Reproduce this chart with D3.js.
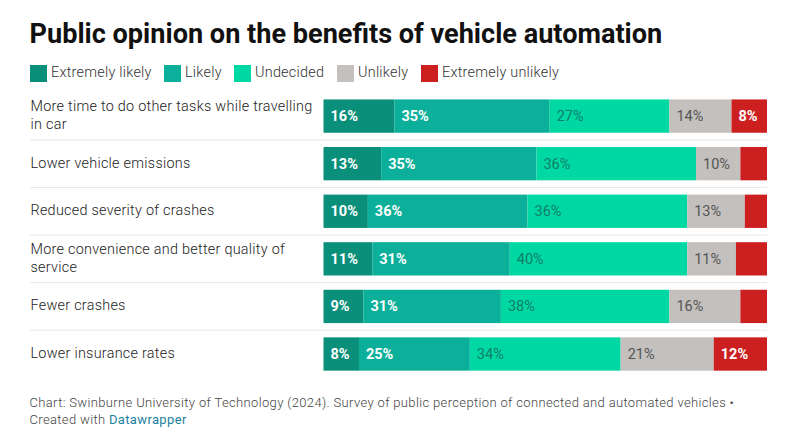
<!DOCTYPE html>
<html lang="en">
<head>
<meta charset="utf-8">
<script src="https://cdn.jsdelivr.net/npm/d3@7"></script>
<style>
html, body { margin: 0; padding: 0; background: #fff; }
svg { display: block; font-family: Roboto, sans-serif; }
</style>
</head>
<body>
<svg id="chart" width="800" height="438"></svg>
<script>
var categories = [
	["More time to do other tasks while travelling", "in car"],
	["Lower vehicle emissions"],
	["Reduced severity of crashes"],
	["More convenience and better quality of", "service"],
	["Fewer crashes"],
	["Lower insurance rates"]
];
var seriesNames = ["Extremely likely", "Likely", "Undecided", "Unlikely", "Extremely unlikely"];
var extremelyLikely = [16, 13, 10, 11, 9, 8];
var likely = [35, 35, 36, 31, 31, 25];
var undecided = [27, 36, 36, 40, 38, 34];
var unlikely = [14, 10, 13, 11, 16, 21];
var extremelyUnlikely = [8, 6, 5, 7, 6, 12];
var seriesValues = [extremelyLikely, likely, undecided, unlikely, extremelyUnlikely];
var colors = ["#0a8f7a", "#0cb09a", "#00d8a4", "#c3c0be", "#cc1f1f"];
var labelColors = ["#fff", "#fff", "#0f7f68", "#555", "#fff"];
var legendX = [30, 164, 234, 337, 421];
var minLabelValue = 8;

var svg = d3.select("#chart");
var x = d3.scaleLinear().domain([0, 100]).range([323.5, 767]);
var y = d3.scaleBand().domain(d3.range(categories.length)).range([92.3, 377.8]).paddingInner(0.3).paddingOuter(0.15);

svg.append("text")
	.attr("x", 29.5).attr("y", 42.5)
	.attr("font-size", 27.1).attr("font-weight", 700).attr("fill", "#111")
	.text("Public opinion on the benefits of vehicle automation");

// legend
var legend = svg.selectAll("g.legend").data(seriesNames).enter().append("g")
	.attr("class", "legend")
	.attr("transform", function(d, i) { return "translate(" + legendX[i] + ",65)"; });
legend.append("rect").attr("width", 17).attr("height", 17)
	.attr("fill", function(d, i) { return colors[i]; });
legend.append("text").attr("x", 21).attr("y", 12)
	.attr("font-size", 14.4).attr("font-weight", 300).attr("letter-spacing", 0.25).attr("fill", "#333")
	.text(function(d) { return d; });

// row separators
svg.selectAll("line.sep").data(d3.range(categories.length - 1)).enter().append("line")
	.attr("class", "sep")
	.attr("x1", 30).attr("x2", 767)
	.attr("y1", function(i) { return (y(i) + y.bandwidth() + y(i + 1)) / 2; })
	.attr("y2", function(i) { return (y(i) + y.bandwidth() + y(i + 1)) / 2; })
	.attr("stroke", "#e6e8e8").attr("stroke-width", 1);

// row labels
categories.forEach(function(lines, r) {
	var mid = y(r) + y.bandwidth() / 2;
	var t = svg.append("text").attr("font-size", 14.4).attr("font-weight", 300)
		.attr("letter-spacing", 0.27).attr("fill", "#222");
	lines.forEach(function(line, j) {
		t.append("tspan").attr("x", 30.5)
			.attr("y", mid + 4 + (j - (lines.length - 1) / 2) * 18.5)
			.text(line);
	});
});

// stacked bars
categories.forEach(function(c, r) {
	var cum = 0;
	seriesValues.forEach(function(vals, s) {
		var v = vals[r], x0 = x(cum), x1 = x(cum + v);
		svg.append("rect")
			.attr("x", x0).attr("y", y(r))
			.attr("width", x1 - x0).attr("height", y.bandwidth())
			.attr("fill", colors[s]);
		if (v >= minLabelValue) {
			svg.append("text")
				.attr("x", x0 + 7).attr("y", y(r) + y.bandwidth() / 2 + 5)
				.attr("font-size", 14.5)
				.attr("font-weight", s < 2 || s == 4 ? 700 : 400)
				.attr("fill", labelColors[s])
				.text(v + "%");
		}
		cum += v;
	});
});

// footer
var foot = svg.append("text").attr("font-size", 13).attr("font-weight", 300)
	.attr("letter-spacing", 0.35).attr("fill", "#444");
foot.append("tspan").attr("x", 29.5).attr("y", 407)
	.text("Chart: Swinburne University of Technology (2024). Survey of public perception of connected and automated vehicles •");
foot.append("tspan").attr("x", 29.5).attr("y", 423.5).text("Created with ");
foot.append("tspan").attr("fill", "#1d81a2").attr("font-weight", 400).text("Datawrapper");
</script>
</body>
</html>
